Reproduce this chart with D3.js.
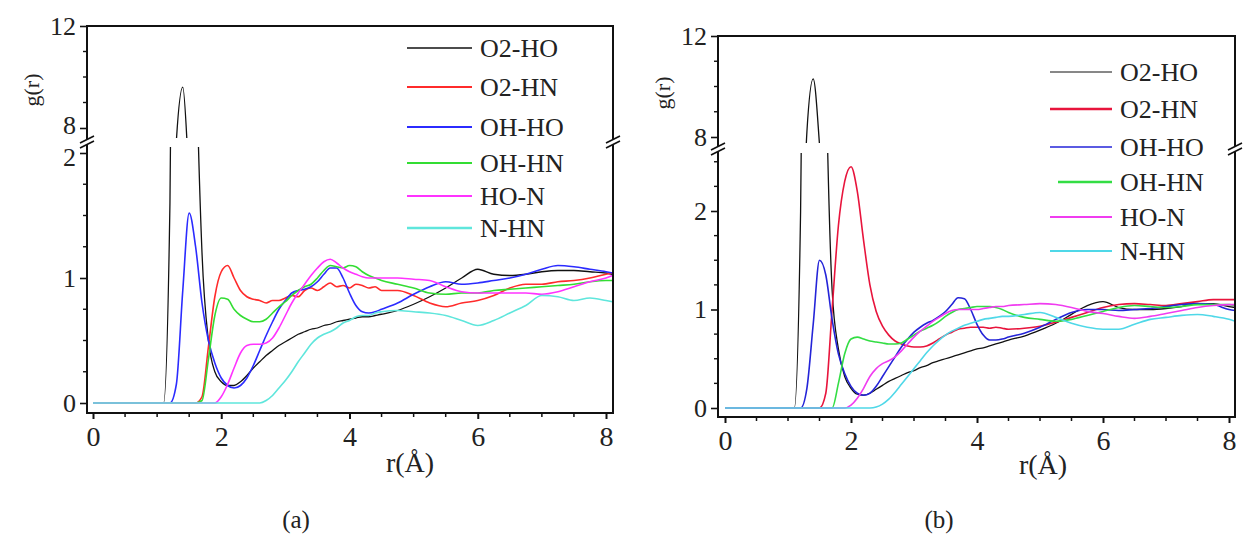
<!DOCTYPE html>
<html><head><meta charset="utf-8">
<script src="https://cdn.jsdelivr.net/npm/d3@7"></script>
<style>body{margin:0;background:#fff}svg{display:block}text{font-family:"Liberation Serif","Times New Roman",serif;fill:#222}</style>
</head><body><svg id="c" width="1248" height="537"></svg>
<script>
// ---------------- DATA ----------------
const rGrid = [0,0.5,1.0,1.1,1.2,1.3,1.4,1.5,1.6,1.7,1.8,1.9,2.0,2.1,2.2,2.3,2.4,2.5,2.6,2.7,2.8,2.9,3.0,3.1,3.2,3.3,3.4,3.5,3.6,3.7,3.8,3.9,4.0,4.1,4.2,4.3,4.4,4.5,4.75,5.0,5.25,5.5,5.75,6.0,6.25,6.5,6.75,7.0,7.25,7.5,7.75,8.0,8.1];
const seriesNames = ["O2-HO","O2-HN","OH-HO","OH-HN","HO-N","N-HN"];
const xTicks = [0,2,4,6,8];
const yTicksLower = [0,1,2];
const yTicksUpper = [8,12];
const captions = ["(a)","(b)"];

// panel (a)
const a_O2HO = [0,0,0,0,1.6,7.5,9.6,6.0,3.0,1.2,0.5,0.25,0.17,0.14,0.14,0.17,0.22,0.28,0.33,0.38,0.42,0.46,0.49,0.52,0.55,0.57,0.59,0.60,0.62,0.63,0.65,0.66,0.67,0.68,0.69,0.69,0.70,0.71,0.74,0.79,0.85,0.92,1.00,1.07,1.03,1.02,1.03,1.05,1.06,1.06,1.05,1.04,1.03];
const a_O2HN = [0,0,0,0,0,0,0,0,0,0.05,0.45,0.85,1.05,1.10,1.00,0.90,0.85,0.83,0.82,0.80,0.82,0.82,0.84,0.86,0.85,0.90,0.92,0.90,0.93,0.96,0.93,0.94,0.92,0.95,0.94,0.92,0.93,0.90,0.90,0.86,0.80,0.77,0.80,0.82,0.86,0.92,0.95,0.95,0.97,0.98,1.00,1.03,1.04];
const a_OHHO = [0,0,0,0,0,0.15,0.9,1.52,1.25,0.80,0.50,0.32,0.20,0.14,0.12,0.14,0.20,0.30,0.42,0.54,0.65,0.75,0.82,0.88,0.90,0.91,0.93,0.97,1.03,1.08,1.08,1.00,0.88,0.78,0.73,0.72,0.73,0.75,0.80,0.87,0.93,0.97,0.95,0.96,0.98,1.00,1.03,1.07,1.10,1.09,1.07,1.05,1.04];
const a_OHHN = [0,0,0,0,0,0,0,0,0,0.02,0.35,0.70,0.84,0.83,0.75,0.70,0.67,0.65,0.65,0.67,0.72,0.77,0.81,0.86,0.90,0.93,0.95,1.00,1.06,1.10,1.09,1.08,1.10,1.09,1.05,1.02,1.00,0.98,0.95,0.92,0.88,0.87,0.88,0.88,0.90,0.91,0.92,0.93,0.94,0.95,0.97,0.98,0.98];
const a_HON  = [0,0,0,0,0,0,0,0,0,0,0,0,0.05,0.15,0.28,0.40,0.46,0.47,0.47,0.48,0.52,0.60,0.70,0.80,0.88,0.95,1.02,1.08,1.13,1.15,1.12,1.08,1.05,1.03,1.01,1.00,1.00,1.00,1.00,0.99,0.98,0.93,0.89,0.88,0.88,0.88,0.88,0.87,0.89,0.93,0.97,1.00,1.02];
const a_NHN  = [0,0,0,0,0,0,0,0,0,0,0,0,0,0,0,0,0,0,0,0.02,0.06,0.12,0.18,0.25,0.33,0.40,0.47,0.52,0.55,0.57,0.60,0.64,0.66,0.69,0.70,0.70,0.72,0.73,0.74,0.73,0.72,0.70,0.66,0.62,0.66,0.72,0.78,0.86,0.85,0.82,0.84,0.82,0.81];

// panel (b)
const b_O2HO = [0,0,0,0,2.0,8.2,10.3,7.7,3.5,1.2,0.6,0.32,0.20,0.14,0.13,0.15,0.19,0.23,0.27,0.30,0.33,0.36,0.38,0.41,0.43,0.46,0.48,0.50,0.52,0.54,0.56,0.58,0.60,0.61,0.63,0.65,0.67,0.69,0.73,0.79,0.86,0.95,1.04,1.08,1.02,1.00,1.00,1.01,1.03,1.06,1.06,1.03,1.02];
const b_O2HN = [0,0,0,0,0,0,0,0,0.15,1.0,1.85,2.3,2.45,2.2,1.7,1.25,0.98,0.83,0.74,0.68,0.65,0.63,0.62,0.62,0.63,0.66,0.70,0.74,0.77,0.80,0.81,0.82,0.82,0.82,0.81,0.82,0.81,0.80,0.81,0.83,0.87,0.92,0.97,1.02,1.05,1.06,1.05,1.04,1.06,1.08,1.10,1.10,1.10];
const b_OHHO = [0,0,0,0,0,0.2,0.85,1.5,1.35,0.90,0.55,0.35,0.22,0.15,0.13,0.15,0.22,0.32,0.42,0.52,0.62,0.70,0.77,0.82,0.86,0.89,0.93,0.98,1.05,1.12,1.11,1.00,0.85,0.74,0.69,0.69,0.70,0.72,0.76,0.82,0.90,0.97,1.00,1.00,0.99,1.00,1.01,1.03,1.05,1.06,1.05,1.00,0.99];
const b_OHHN = [0,0,0,0,0,0,0,0,0,0,0.25,0.55,0.70,0.72,0.70,0.68,0.67,0.66,0.65,0.65,0.66,0.70,0.74,0.78,0.81,0.84,0.88,0.93,0.97,1.00,1.01,1.02,1.03,1.03,1.03,1.02,1.00,0.97,0.92,0.90,0.88,0.90,0.94,0.98,1.02,1.04,1.03,1.02,1.03,1.05,1.05,1.05,1.04];
const b_HON  = [0,0,0,0,0,0,0,0,0,0,0,0,0.03,0.10,0.20,0.32,0.40,0.45,0.48,0.52,0.58,0.65,0.72,0.78,0.83,0.88,0.92,0.96,0.99,1.00,1.00,1.00,1.00,1.01,1.02,1.03,1.03,1.04,1.05,1.06,1.05,1.02,0.98,0.96,0.93,0.91,0.93,0.96,0.99,1.02,1.04,1.05,1.05];
const b_NHN  = [0,0,0,0,0,0,0,0,0,0,0,0,0,0,0,0,0.01,0.04,0.09,0.16,0.24,0.32,0.40,0.48,0.56,0.63,0.69,0.74,0.78,0.81,0.84,0.86,0.88,0.90,0.91,0.92,0.93,0.93,0.95,0.97,0.92,0.86,0.82,0.80,0.80,0.85,0.90,0.92,0.94,0.95,0.93,0.90,0.88];

const colorsA = ["#111111","#ff2b2b","#2b2bff","#33dd33","#ff33ff","#5fe6dc"];
const colorsB = ["#111111","#e8143c","#2424d8","#33dd44","#f03cf0","#4fd8e8"];

// ---------------- LAYOUT ----------------
const svg = d3.select("#c");
svg.append("rect").attr("width",1248).attr("height",537).attr("fill","#fff");

const panels = [
  {id:"a", series:[a_O2HO,a_O2HN,a_OHHO,a_OHHN,a_HON,a_NHN], colors:colorsA,
   fl:87, fr:613, ft:26, fb:413, x0:93, x8:606,
   low:{d:[0,2], r:[403,153], top:147}, up:{d:[8,12], r:[128,26], bot:138}, brk:142,
   leg:{x1:407,x2:472,tx:480, rows:[48,87,127,163,196,228], widths:[1.6,2,2,2,2,2.4], starts:[407,407,407,407,407,407]},
   ylab:{x:39,y:90}, xlab:{x:410,y:472}, cap:{x:296,y:528}, nudge:{8:-3, 2:4}},
  {id:"b", series:[b_O2HO,b_O2HN,b_OHHO,b_OHHN,b_HON,b_NHN], colors:colorsB,
   fl:718, fr:1235, ft:36, fb:417, x0:725, x8:1229,
   low:{d:[0,2], r:[408,211], top:153}, up:{d:[8,12], r:[137,36], bot:143}, brk:149,
   leg:{x1:1050,x2:1112,tx:1120, rows:[72,109,147,182,217,251], widths:[1,2.4,1.6,2.6,1.8,2], starts:[1050,1050,1050,1058,1050,1050]},
   ylab:{x:670,y:93}, xlab:{x:1043,y:474}, cap:{x:939,y:528}, nudge:{}}
];

panels.forEach((p,pi) => {
  const g = svg.append("g");
  const x = d3.scaleLinear().domain([0,8]).range([p.x0,p.x8]);
  const yL = d3.scaleLinear().domain(p.low.d).range(p.low.r);
  const yU = d3.scaleLinear().domain(p.up.d).range(p.up.r);

  const defs = svg.append("defs");
  defs.append("clipPath").attr("id","clipL"+p.id).append("rect")
    .attr("x",p.fl).attr("y",p.low.top).attr("width",p.fr-p.fl).attr("height",p.fb-p.low.top);
  defs.append("clipPath").attr("id","clipU"+p.id).append("rect")
    .attr("x",p.fl).attr("y",p.ft).attr("width",p.fr-p.fl).attr("height",p.up.bot-p.ft);

  const lineL = d3.line().x((d,i)=>x(rGrid[i])).y(d=>yL(d)).curve(d3.curveMonotoneX);
  const lineU = d3.line().x((d,i)=>x(rGrid[i])).y(d=>yU(d)).curve(d3.curveMonotoneX);

  const gl = g.append("g").attr("clip-path","url(#clipL"+p.id+")");
  const gu = g.append("g").attr("clip-path","url(#clipU"+p.id+")");
  p.series.forEach((s,si) => {
    const w = si===0 ? 1.3 : 1.6;
    gl.append("path").attr("d",lineL(s)).attr("fill","none").attr("stroke",p.colors[si]).attr("stroke-width",w).attr("stroke-linejoin","round");
    gu.append("path").attr("d",lineU(s)).attr("fill","none").attr("stroke",p.colors[si]).attr("stroke-width",w).attr("stroke-linejoin","round");
  });

  // frame
  g.append("rect").attr("x",p.fl).attr("y",p.ft).attr("width",p.fr-p.fl).attr("height",p.fb-p.ft)
    .attr("fill","none").attr("stroke","#111").attr("stroke-width",2);

  // x axis ticks
  const xax = d3.axisBottom(x).tickValues(xTicks).tickSize(6).tickPadding(7).tickFormat(d3.format("d"));
  const xg = g.append("g").attr("transform",`translate(0,${p.fb})`).call(xax);
  xg.select(".domain").remove();
  xg.selectAll("line").attr("stroke","#111").attr("stroke-width",2);
  xg.selectAll("text").attr("font-size",28).attr("fill","#222");
  const xminor = d3.range(0,8.01,0.5).filter(v=>!xTicks.includes(v));
  g.selectAll(null).data(xminor).enter().append("line")
    .attr("x1",d=>x(d)).attr("x2",d=>x(d)).attr("y1",p.fb).attr("y2",p.fb+4)
    .attr("stroke","#111").attr("stroke-width",1.5);

  // y axis ticks (lower and upper segments)
  const styleY = (sel) => {
    sel.select(".domain").remove();
    sel.selectAll("line").attr("stroke","#111").attr("stroke-width",1.6);
    sel.selectAll("text").attr("font-size",26).attr("fill","#222")
      .attr("transform", d => p.nudge[d] ? `translate(0,${p.nudge[d]})` : null);
  };
  const ylAx = d3.axisLeft(yL).tickValues(yTicksLower).tickSize(7).tickPadding(4).tickFormat(d3.format("d"));
  styleY(g.append("g").attr("transform",`translate(${p.fl},0)`).call(ylAx));
  const yUAx = d3.axisLeft(yU).tickValues(yTicksUpper).tickSize(7).tickPadding(4).tickFormat(d3.format("d"));
  styleY(g.append("g").attr("transform",`translate(${p.fl},0)`).call(yUAx));
  const lowMinor = d3.range(0.25, p.low.d[1] + 0.6, 0.25).filter(v=>!yTicksLower.includes(v) && yL(v) >= p.low.top);
  g.selectAll(null).data(lowMinor).enter().append("line")
    .attr("x1",p.fl-4).attr("x2",p.fl).attr("y1",d=>yL(d)).attr("y2",d=>yL(d))
    .attr("stroke","#111").attr("stroke-width",1.4);
  const upMinor = [9,10,11];
  g.selectAll(null).data(upMinor).enter().append("line")
    .attr("x1",p.fl-4).attr("x2",p.fl).attr("y1",d=>yU(d)).attr("y2",d=>yU(d))
    .attr("stroke","#111").attr("stroke-width",1.4);

  // axis break marks (left and right)
  [p.fl, p.fr].forEach(bx => {
    g.append("polygon").attr("points",`${bx-7},${p.brk+1} ${bx+7},${p.brk-6} ${bx+7},${p.brk-1} ${bx-7},${p.brk+6}`).attr("fill","#fff");
    g.append("line").attr("x1",bx-7).attr("y1",p.brk+1).attr("x2",bx+7).attr("y2",p.brk-6).attr("stroke","#111").attr("stroke-width",1.6);
    g.append("line").attr("x1",bx-7).attr("y1",p.brk+6).attr("x2",bx+7).attr("y2",p.brk-1).attr("stroke","#111").attr("stroke-width",1.6);
  });

  // legend
  seriesNames.forEach((n,i) => {
    const ry = p.leg.rows[i];
    g.append("line").attr("x1",p.leg.starts[i]).attr("x2",p.leg.x2).attr("y1",ry).attr("y2",ry)
      .attr("stroke",p.colors[i]).attr("stroke-width",p.leg.widths[i]);
    g.append("text").attr("x",p.leg.tx).attr("y",ry+9).attr("font-size",26).text(n);
  });

  // axis titles
  g.append("text").attr("transform",`translate(${p.ylab.x},${p.ylab.y}) rotate(-90)`)
    .attr("text-anchor","middle").attr("font-size",22).text("g(r)");
  g.append("text").attr("x",p.xlab.x).attr("y",p.xlab.y).attr("text-anchor","middle").attr("font-size",28).text("r(Å)");
  svg.append("text").attr("x",p.cap.x).attr("y",p.cap.y).attr("text-anchor","middle").attr("font-size",25).text(captions[pi]);
});
</script></body></html>
